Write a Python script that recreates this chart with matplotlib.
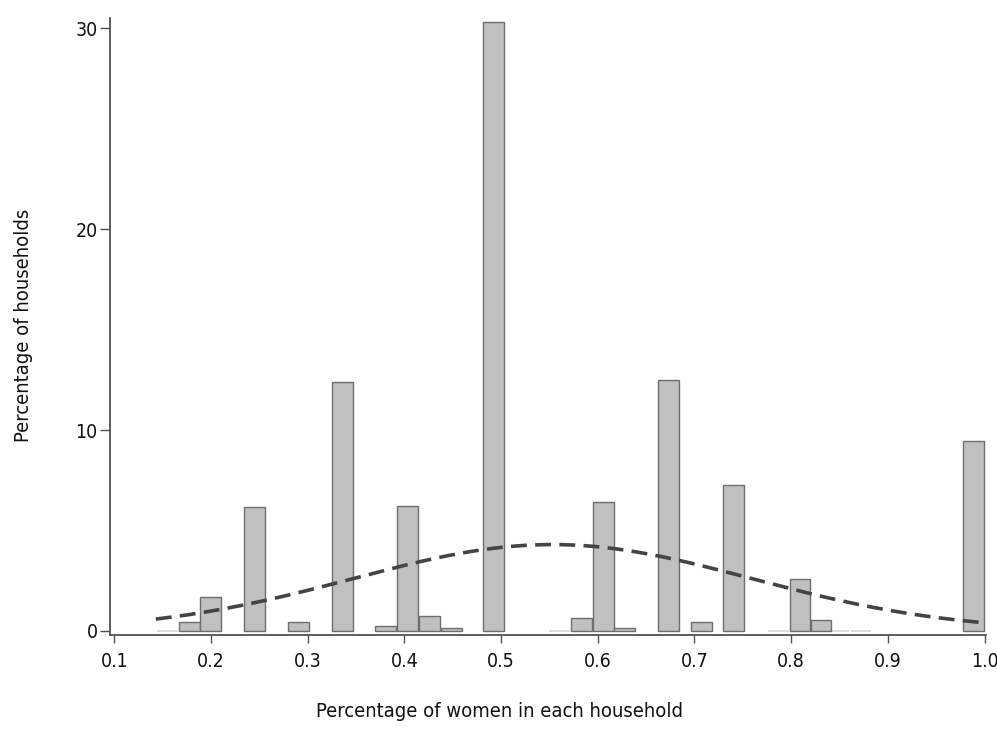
import numpy as np
import matplotlib
matplotlib.use("Agg")
import matplotlib.pyplot as plt
from matplotlib import font_manager

# ---------------- data ----------------
bin_left = [0.1672, 0.1890, 0.2342, 0.2797, 0.3250, 0.3698, 0.3925, 0.4150,
            0.4378, 0.4816, 0.5724, 0.5951, 0.6165, 0.6620, 0.6969, 0.7297,
            0.7983, 0.8200, 0.9781]
pct_households = [0.43, 1.71, 6.17, 0.43, 12.39, 0.25, 6.20, 0.75,
                  0.13, 30.30, 0.65, 6.40, 0.16, 12.50, 0.46, 7.26,
                  2.57, 0.55, 9.45]
empty_bin_left = [0.1445, 0.5495, 0.7765, 0.8385, 0.8615]
empty_bin_height = [0, 0, 0, 0, 0]
bin_width = 0.0215

# fitted normal curve parameters
norm_mean = 0.553
norm_sd = 0.206
norm_peak = 4.30
curve_min, curve_max = 0.1429, 1.0

x_ticks = [0.1, 0.2, 0.3, 0.4, 0.5, 0.6, 0.7, 0.8, 0.9, 1.0]
x_tick_labels = ["0.1", "0.2", "0.3", "0.4", "0.5", "0.6", "0.7", "0.8", "0.9", "1.0"]
y_ticks = [0, 10, 20, 30]
y_tick_labels = ["0", "10", "20", "30"]
x_label = "Percentage of women in each household"
y_label = "Percentage of households"

# ---------------- font ----------------
names = {f.name for f in font_manager.fontManager.ttflist}
stretch = "normal"
if "Liberation Sans Narrow" in names:
    family = ["Liberation Sans Narrow", "DejaVu Sans"]
else:
    family = ["DejaVu Sans"]
    stretch = "condensed"
plt.rcParams["font.family"] = family
plt.rcParams["font.stretch"] = stretch

# ---------------- figure ----------------
fig = plt.figure(figsize=(9.97, 7.54), dpi=100)
ax = fig.add_axes([110 / 997, (754 - 635) / 754, 876 / 997, 617 / 754])

ax.bar(empty_bin_left, empty_bin_height, width=bin_width, align="edge",
       facecolor="none", edgecolor="#dcdcdc", linewidth=1.4, zorder=1)
ax.bar(bin_left, pct_households, width=bin_width, align="edge",
       facecolor="#c0c0c0", edgecolor="#6e6e6e", linewidth=1.0, zorder=2)

xc = np.linspace(curve_min, curve_max, 300)
yc = norm_peak * np.exp(-0.5 * ((xc - norm_mean) / norm_sd) ** 2)
ax.plot(xc, yc, color="#444444", linewidth=2.6, dashes=(4.4, 2.3), zorder=3)

ax.set_xlim(0.0955, 1.0015)
ax.set_ylim(-0.2, 30.5)

for s in ["top", "right"]:
    ax.spines[s].set_visible(False)
for s in ["left", "bottom"]:
    ax.spines[s].set_color("#505050")
    ax.spines[s].set_linewidth(1.3)

ax.set_xticks(x_ticks)
ax.set_xticklabels(x_tick_labels)
ax.set_yticks(y_ticks)
ax.set_yticklabels(y_tick_labels)
ax.tick_params(axis="x", direction="out", length=6, width=1.0, color="#505050",
               labelsize=14, pad=6, labelcolor="#111111")
ax.tick_params(axis="y", direction="out", length=7, width=1.0, color="#505050",
               labelsize=14, pad=2, labelcolor="#111111")

ax.set_xlabel(x_label, fontsize=14.5, color="#111111")
ax.set_ylabel(y_label, fontsize=14.5, color="#111111")
ax.xaxis.set_label_coords(0.445, -0.1086)
ax.yaxis.set_label_coords(-0.0876, 0.5024)

fig.savefig("out.png", dpi=100)
